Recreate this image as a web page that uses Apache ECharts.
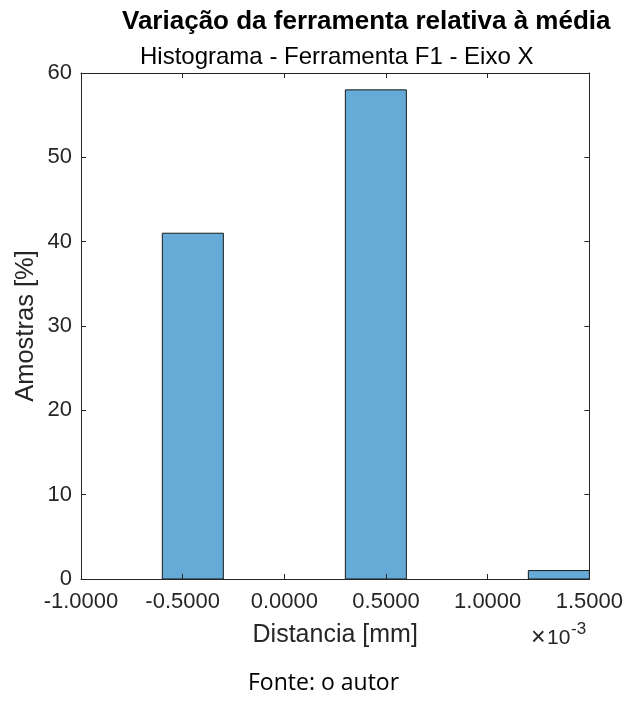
<!DOCTYPE html>
<html><head><meta charset="utf-8">
<script src="https://cdn.jsdelivr.net/npm/echarts@6/dist/echarts.min.js"></script>
<style>html,body{margin:0;padding:0;background:#fff}#c{width:626px;height:702px}</style>
</head><body><div id="c"></div>
<script>
// Bin edges (x 10^-3 mm) and counts (%)
const binStarts = [-0.6, -0.3, 0.0, 0.3, 0.6, 0.9, 1.2];
const binEnds   = [-0.3,  0.0, 0.3, 0.6, 0.9, 1.2, 1.5];
const counts    = [41, 0, 0, 58, 0, 0, 1];
const xTicks = [-1.0, -0.5, 0.0, 0.5, 1.0, 1.5];
const yTicks = [0, 10, 20, 30, 40, 50, 60];

const data = binStarts.map((s, i) => [s, binEnds[i], counts[i]]);
const axisColor = '#262626';
const font = 'Liberation Sans, Arial, sans-serif';

const chart = echarts.init(document.getElementById('c'), null, {renderer: 'canvas'});
const commonX = {
  type: 'value', min: xTicks[0], max: xTicks[xTicks.length-1], interval: 0.5, z: 5,
  axisLine: {show: true, onZero: false, lineStyle: {color: axisColor, width: 1}},
  axisTick: {show: true, inside: true, length: 5, lineStyle: {color: axisColor}},
  splitLine: {show: false}
};
const commonY = {
  type: 'value', min: yTicks[0], max: yTicks[yTicks.length-1], interval: 10, z: 5,
  axisLine: {show: true, onZero: false, lineStyle: {color: axisColor, width: 1}},
  axisTick: {show: true, inside: true, length: 5, lineStyle: {color: axisColor}},
  splitLine: {show: false}
};
chart.setOption({
  animation: false,
  backgroundColor: '#fff',
  title: [
    {text: 'Variação da ferramenta relativa à média', left: 117, top: 4,
     textStyle: {fontFamily: font, fontWeight: 'bold', fontSize: 26, color: '#000'}},
    {text: 'Histograma - Ferramenta F1 - Eixo X', left: 135, top: 40,
     textStyle: {fontFamily: font, fontWeight: 'normal', fontSize: 24, color: '#000'}}
  ],
  grid: {left: 81, right: 36, top: 73, bottom: 123, containLabel: false},
  xAxis: [
    Object.assign({}, commonX, {position: 'bottom',
      axisLabel: {show: true, margin: 12, fontFamily: font, fontSize: 22, color: '#262626',
        formatter: v => v.toFixed(4)},
      name: 'Distancia [mm]', nameLocation: 'middle', nameGap: 44,
      nameTextStyle: {fontFamily: font, fontSize: 25, color: '#262626'}}),
    Object.assign({}, commonX, {position: 'top', axisLabel: {show: false}})
  ],
  yAxis: [
    Object.assign({}, commonY, {position: 'left',
      axisLabel: {show: true, margin: 9, fontFamily: font, fontSize: 22, color: '#262626'},
      name: 'Amostras [%]', nameLocation: 'middle', nameGap: 42, nameRotate: 90,
      nameMoveOverlap: false,
      nameTextStyle: {fontFamily: font, fontSize: 25.5, color: '#262626'}}),
    Object.assign({}, commonY, {position: 'right', axisLabel: {show: false}})
  ],
  series: [{
    type: 'custom',
    xAxisIndex: 0, yAxisIndex: 0, z: 2,
    encode: {x: [0, 1], y: 2},
    data: data,
    renderItem: function (params, api) {
      const x0 = api.value(0), x1 = api.value(1), y = api.value(2);
      if (!y) return null;
      const p0 = api.coord([x0, y]);
      const p1 = api.coord([x1, 0]);
      return {
        type: 'rect',
        shape: {x: p0[0], y: p0[1], width: p1[0] - p0[0], height: p1[1] - p0[1]},
        style: {fill: '#66AAD7', stroke: '#1a1a1a', lineWidth: 1}
      };
    }
  }],
  graphic: [
    {type: 'text', left: 531, top: 626,
     style: {text: '×', font: '25px "Liberation Sans", Arial, sans-serif', fill: '#262626'}},
    {type: 'text', left: 547, top: 628,
     style: {text: '10', font: '21px "Liberation Sans", Arial, sans-serif', fill: '#262626'}},
    {type: 'text', left: 571, top: 621,
     style: {text: '-3', font: '17px "Liberation Sans", Arial, sans-serif', fill: '#262626'}},
    {type: 'text', left: 248, top: 672,
     style: {text: 'Fonte: o autor', font: '23px "Open Sans", "Noto Sans", sans-serif', fill: '#000'}}
  ]
});
</script></body></html>
